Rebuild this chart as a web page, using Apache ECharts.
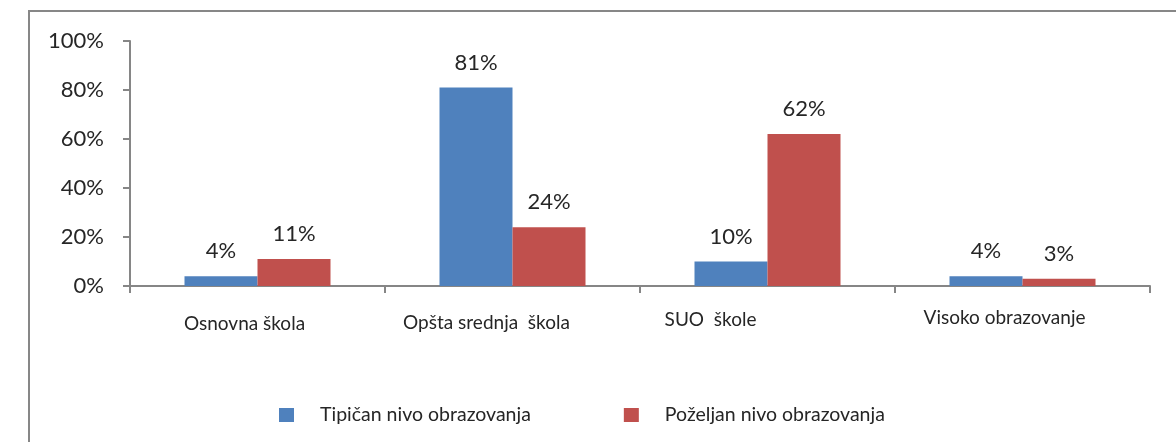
<!DOCTYPE html>
<html>
<head>
<meta charset="utf-8">
<script src="https://cdn.jsdelivr.net/npm/echarts@6/dist/echarts.min.js"></script>
<style>
  html, body { margin: 0; padding: 0; background: #fff; }
  #chart { width: 1176px; height: 442px; }
</style>
</head>
<body>
<div id="chart"></div>
<script>
// podaci
const categories = ['Osnovna škola', 'Opšta srednja  škola', 'SUO  škole', 'Visoko obrazovanje'];
const seriesNames = ['Tipičan nivo obrazovanja', 'Poželjan nivo obrazovanja'];
const tipican = [4, 81, 10, 4];
const pozeljan = [11, 24, 62, 3];
const yTicks = [0, 20, 40, 60, 80, 100];

// labels in the original sit a bit left of (and some higher than) the category centre
const labelPad = [[6, 26, 0, 0], [5, 52, 0, 0], [2, 114, 0, 0], [0, 36, 0, 0]];

const font = 'Lato';
const textColor = '#262626';
const axisColor = '#868686';

let myChart = echarts.init(document.getElementById('chart'));
const options = {
    backgroundColor: '#fff',
    animation: false,
    textStyle: { fontFamily: font },
    graphic: [
        {
            type: 'rect',
            shape: { x: 29, y: 11, width: 1300, height: 600 },
            style: { fill: 'none', stroke: '#878787', lineWidth: 2 },
            silent: true
        }
    ],
    legend: {
        left: 274,
        top: 400,
        itemWidth: 15,
        itemHeight: 14,
        itemGap: 93,
        icon: 'rect',
        textStyle: { fontSize: 19.5, color: textColor, fontFamily: font, padding: [0, 0, 0, 21] },
        data: seriesNames
    },
    grid: { left: 130, right: 26, top: 41, bottom: 156, containLabel: false },
    xAxis: {
        type: 'category',
        data: categories.map((c, i) => ({ value: c, textStyle: { padding: labelPad[i] } })),
        axisLine: { lineStyle: { color: axisColor, width: 2 } },
        axisTick: { show: true, length: 7, lineStyle: { color: axisColor, width: 2 } },
        axisLabel: { fontSize: 19, color: textColor, margin: 22, fontFamily: font, interval: 0 }
    },
    yAxis: {
        type: 'value',
        min: 0,
        max: 100,
        interval: 20,
        axisLine: { show: true, lineStyle: { color: axisColor, width: 2 } },
        axisTick: { show: true, length: 7, lineStyle: { color: axisColor, width: 2 } },
        splitLine: { show: false },
        axisLabel: {
            fontSize: 22, color: textColor, margin: 26, fontFamily: font,
            formatter: v => yTicks.includes(v) ? v + '%' : ''
        }
    },
    series: [
        {
            name: seriesNames[0],
            type: 'bar',
            data: tipican,
            barWidth: 73,
            barGap: '0%',
            itemStyle: { color: '#4F81BD' },
            label: { show: true, position: 'top', distance: 14, fontSize: 22, color: textColor, fontFamily: font, formatter: '{c}%' }
        },
        {
            name: seriesNames[1],
            type: 'bar',
            data: pozeljan,
            barWidth: 73,
            barGap: '0%',
            itemStyle: { color: '#C0504D' },
            label: { show: true, position: 'top', distance: 14, fontSize: 22, color: textColor, fontFamily: font, formatter: '{c}%' }
        }
    ]
};
myChart.setOption(options);
</script>
</body>
</html>
